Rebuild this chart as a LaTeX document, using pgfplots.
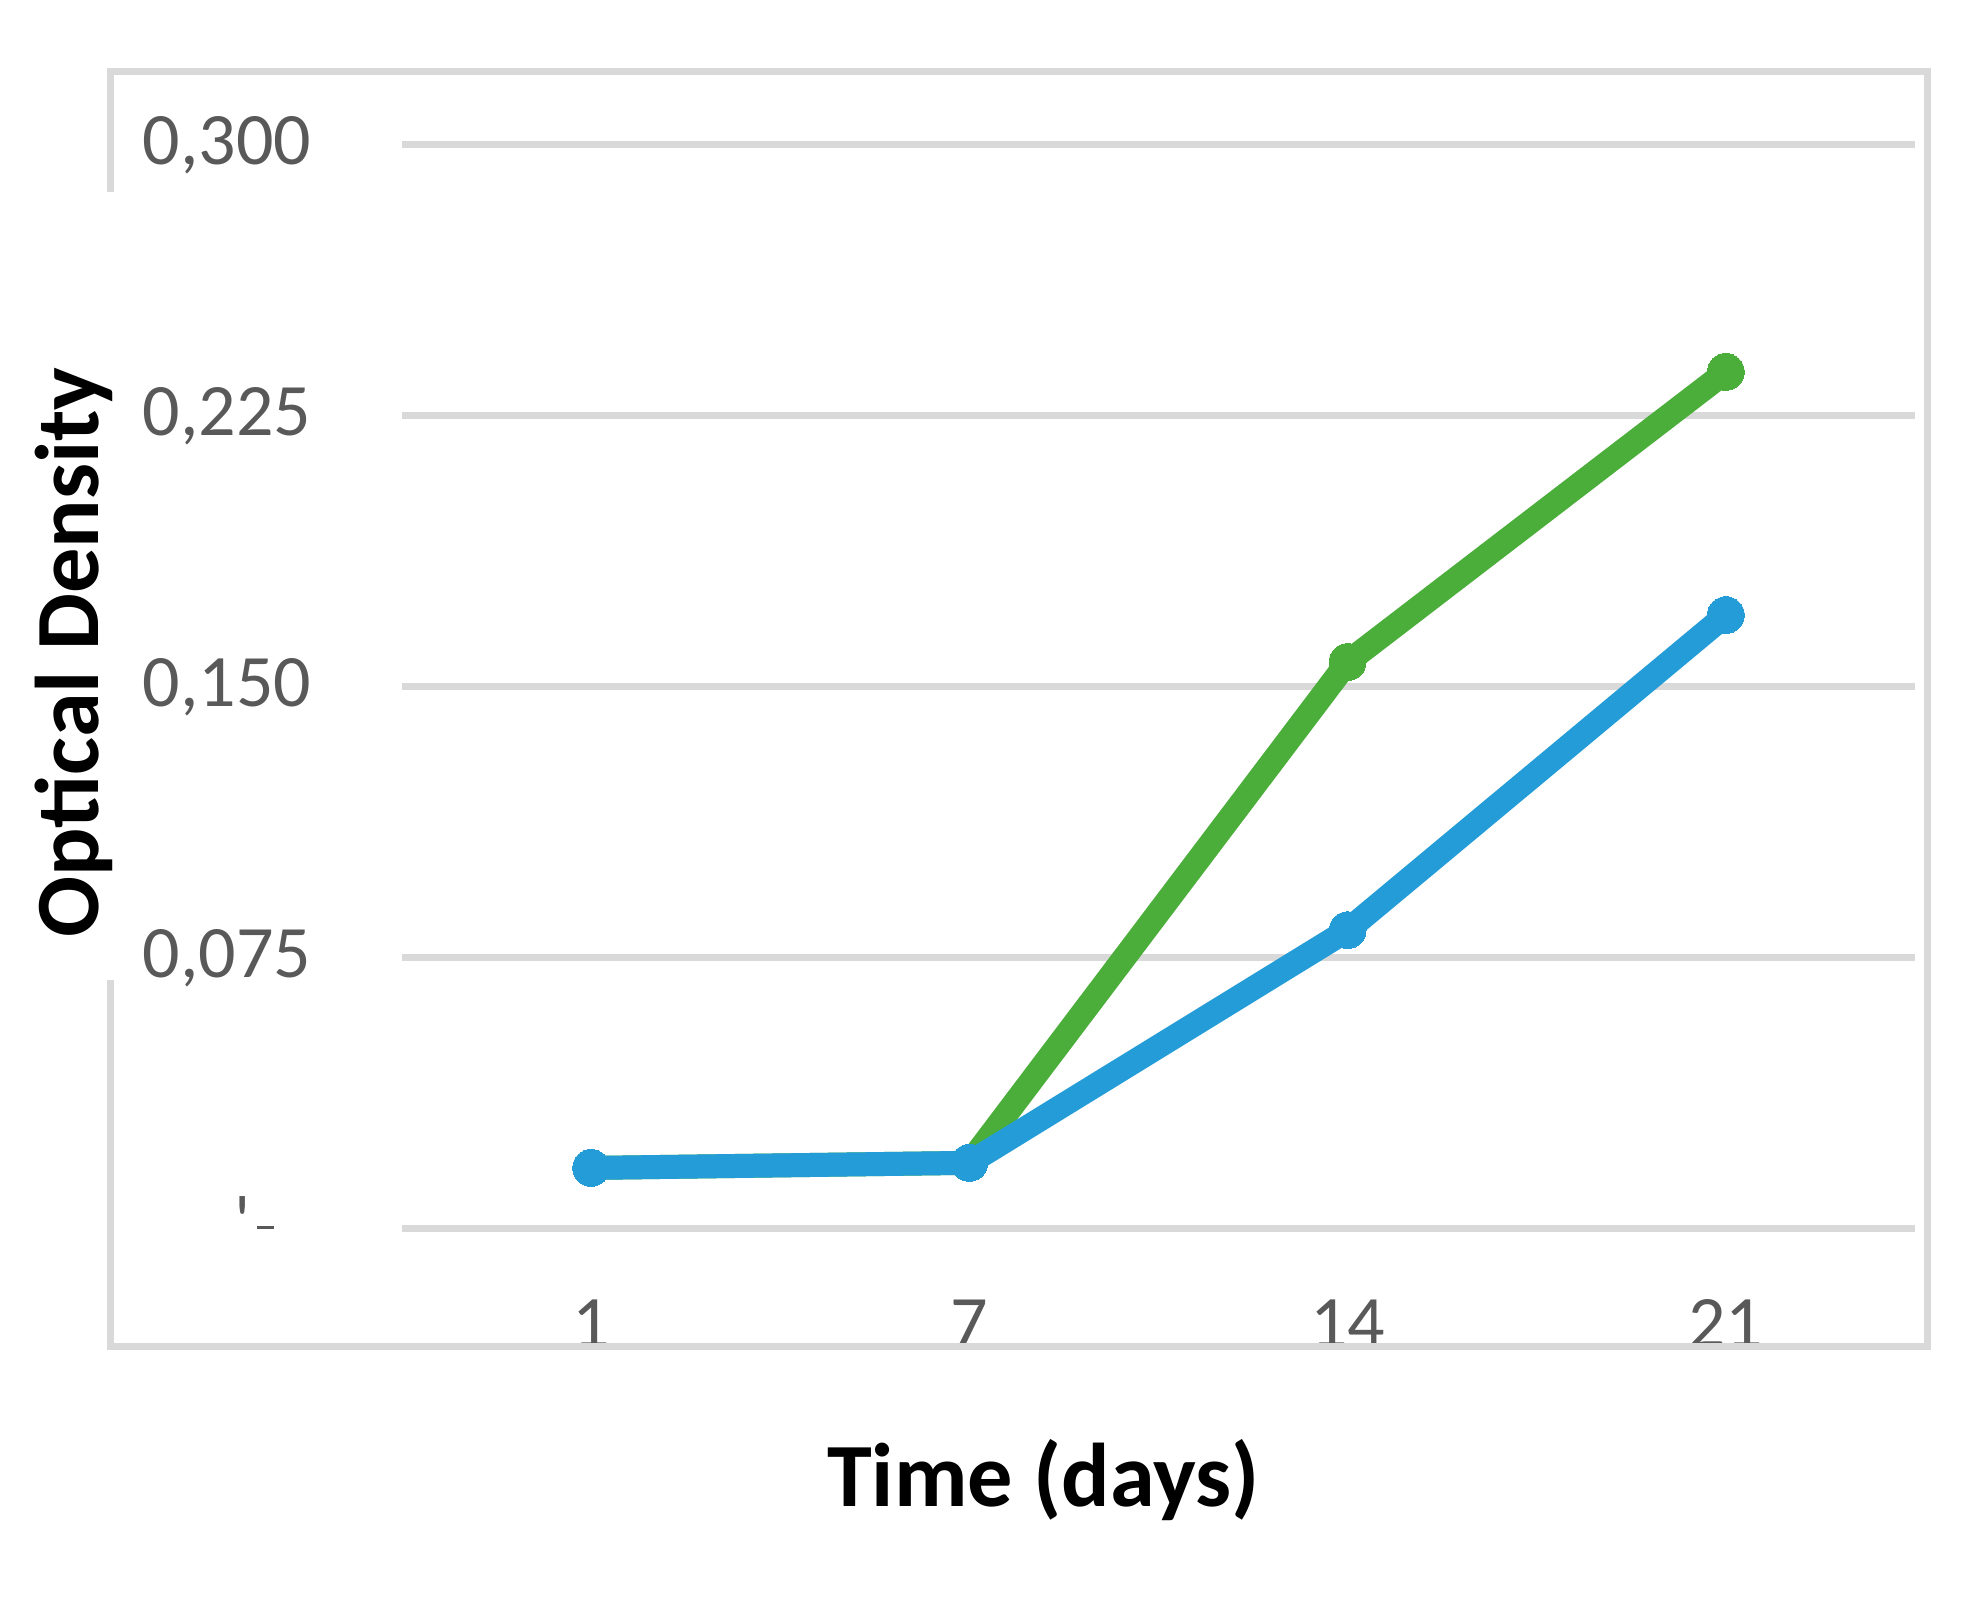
\documentclass[border=0pt]{standalone}
\usepackage{fontspec}
\setmainfont{Carlito}
\usepackage{pgfplots}
\pgfplotsset{compat=1.18}
\definecolor{gridgray}{HTML}{D9D9D9}
\definecolor{ticktext}{HTML}{595959}
\definecolor{serblue}{RGB}{36,156,216}
\definecolor{sergreen}{RGB}{76,174,58}
\begin{document}
\begin{tikzpicture}
\path[use as bounding box] (0,0) rectangle (494.25pt,400.25pt);
\begin{axis}[
  at={(100.5pt,93pt)}, anchor=south west,
  scale only axis,
  width=378.25pt, height=271pt,
  xmin=-0.5, xmax=3.5, ymin=0, ymax=0.3,
  clip=false,
  axis line style={draw=none},
  major tick length=0pt,
  xtick={0,1,2,3}, xticklabels={1,7,14,21},
  ytick={0,0.075,0.15,0.225,0.3},
  yticklabels={{\smash{\raisebox{-4.3pt}{\textquotesingle}\hspace{1.6pt}\rule{4.25pt}{0.75pt}}\rule{9.25pt}{0pt}},{0,075},{0,150},{0,225},{0,300}},
  ymajorgrids,
  grid style={gridgray, line width=1.75pt},
  /pgf/number format/assume math mode=true,
  ticklabel style={font=\fontsize{18.5}{22}\selectfont, text=ticktext},
  xticklabel style={anchor=base, yshift=-29.75pt},
  yticklabel style={anchor=east, inner sep=0pt, xshift=-22.5pt},
  xlabel={Time (days)},
  ylabel={Optical Density},
  label style={font=\fontsize{22.6}{27}\selectfont\bfseries},
  xlabel style={at={(axis description cs:0.424,-0.2315)}, anchor=center},
  ylabel style={at={(axis description cs:-0.217,0.532)}, anchor=center},
]
\addplot[sergreen, line width=6pt, line join=round, mark=*, mark size=4.6pt, mark options={fill=sergreen, draw=sergreen, line width=0pt}]
  coordinates {(0,0.0169) (1,0.0183) (2,0.1569) (3,0.2372)};
\addplot[serblue, line width=6pt, line join=round, mark=*, mark size=4.6pt, mark options={fill=serblue, draw=serblue, line width=0pt}]
  coordinates {(0,0.0169) (1,0.0183) (2,0.0827) (3,0.1699)};
\end{axis}
\draw[gridgray, line width=1.75pt] (27.5pt,352.25pt) -- (27.5pt,382.25pt) -- (481.75pt,382.25pt) -- (481.75pt,63.5pt) -- (27.5pt,63.5pt) -- (27.5pt,155.25pt);
\end{tikzpicture}
\end{document}
